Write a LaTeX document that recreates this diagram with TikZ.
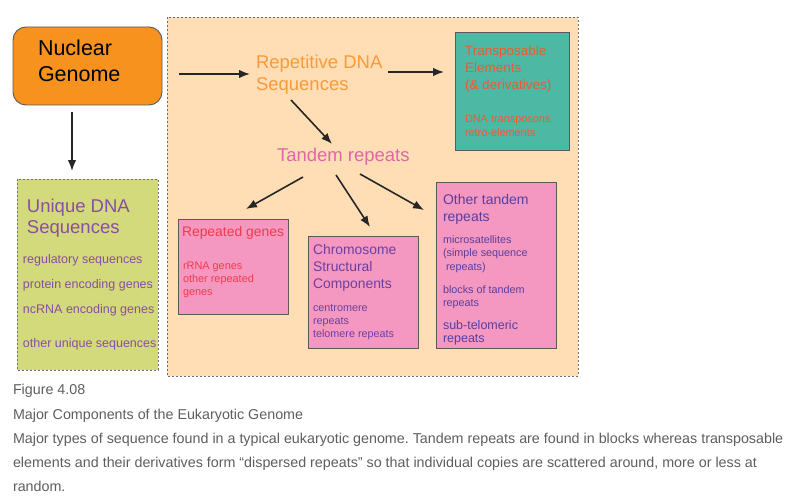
\documentclass[tikz,border=0pt]{standalone}
\usepackage{fontspec}
\setmainfont{Liberation Sans}
\usetikzlibrary{arrows.meta}
\frenchspacing
\definecolor{nucfill}{HTML}{F7921E}
\definecolor{peach}{HTML}{FFDEB5}
\definecolor{lime}{HTML}{D2DA7C}
\definecolor{teal2}{HTML}{4DB9A5}
\definecolor{pinkbox}{HTML}{F497C1}
\definecolor{reptxt}{HTML}{F99B3A}
\definecolor{tandtxt}{HTML}{E066A8}
\definecolor{transtxt}{HTML}{EE5A30}
\definecolor{uniqtxt}{HTML}{8A4EA2}
\definecolor{rgtxt}{HTML}{EE3D4C}
\definecolor{chrtxt}{HTML}{6C40A0}
\definecolor{othtxt}{HTML}{5A3E9E}
\definecolor{captxt}{HTML}{5E5E5E}
\definecolor{edge}{HTML}{5A5A5A}
\definecolor{dashc}{HTML}{707070}
\tikzset{
  x=1pt, y=-1pt,
  solidbox/.style={draw=edge, line width=0.9pt},
  dashbox/.style={draw=dashc, line width=0.8pt, dash pattern=on 2pt off 2pt},
  txt/.style={inner sep=0pt, outer sep=0pt, anchor=north west, align=left},
  btxt/.style={inner sep=0pt, outer sep=0pt, anchor=base west},
  arr/.style={draw=black!85, line width=1.6pt, -{Latex[length=11pt,width=8.5pt]}},
  fs/.style 2 args={font=\fontsize{#1}{#2}\selectfont\frenchspacing},
}
\begin{document}
\begin{tikzpicture}
\useasboundingbox[fill=white] (0,0) rectangle (795,500);
% containers
\path[dashbox, fill=peach] (167,17) rectangle (578,376);
\path[dashbox, fill=lime] (17,179) rectangle (158,370);
\draw[solidbox, fill=nucfill, rounded corners=13pt] (13,27) rectangle (162,105);
\path[solidbox, fill=teal2] (455,32) rectangle (569,150);
\path[solidbox, fill=pinkbox] (178,219) rectangle (288,314);
\path[solidbox, fill=pinkbox] (308,236) rectangle (418,348);
\path[solidbox, fill=pinkbox] (436,182) rectangle (556,348);
% texts
\node[txt, fs={21.5}{26}, text=black] (nuc) at (38,39.5) {Nuclear\\Genome};
\node[txt, fs={18.5}{22}, text=reptxt] (rep) at (256,54.7) {Repetitive DNA\\Sequences};
\node[txt, fs={18.5}{22}, text=tandtxt] (tand) at (277,147.7) {Tandem repeats};
\node[txt, fs={18.5}{21}, text=uniqtxt] (uniq) at (27,198.7) {Unique DNA\\Sequences};
\node[btxt, fs={12.5}{15}, text=uniqtxt] (u1) at (23,263) {regulatory sequences};
\node[btxt, fs={12.5}{15}, text=uniqtxt] (u2) at (23,288) {protein encoding genes};
\node[btxt, fs={12.5}{15}, text=uniqtxt] (u3) at (23,313) {ncRNA encoding genes};
\node[btxt, fs={12.5}{15}, text=uniqtxt] (u4) at (23,347) {other unique sequences};
\node[txt, fs={13.5}{17}, text=transtxt] (trans) at (465,45.3) {Transposable\\Elements\\(\& derivatives)};
\node[txt, fs={10.9}{13.5}, text=transtxt] (transi) at (465,115.2) {DNA transposons\\retro-elements};
\node[btxt, fs={13.9}{17}, text=rgtxt] (rg) at (182,236) {Repeated genes};
\node[txt, fs={10.9}{13}, text=rgtxt] (rgi) at (183,262.2) {rRNA genes\\other repeated\\genes};
\node[txt, fs={13.9}{17}, text=chrtxt] (chr) at (313,244) {Chromosome\\Structural\\Components};
\node[txt, fs={10.8}{13}, text=chrtxt] (chri) at (313,304.2) {centromere\\repeats\\telomere repeats};
\node[txt, fs={14}{17}, text=othtxt] (oth) at (443,193.9) {Other tandem\\repeats};
\node[txt, fs={10.8}{13.5}, text=othtxt] (oth1) at (443,235.2) {microsatellites\\(simple sequence\\\ repeats)};
\node[txt, fs={10.8}{13}, text=othtxt] (oth2) at (443,285.2) {blocks of tandem\\repeats};
\node[txt, fs={12.5}{13.5}, text=othtxt] (oth3) at (443,320) {sub-telomeric\\repeats};
% caption
\node[btxt, fs={14.3}{17}, text=captxt] (c1) at (13,394) {Figure 4.08};
\node[btxt, fs={14.3}{17}, text=captxt] (c2) at (13,419) {Major Components of the Eukaryotic Genome};
\node[btxt, fs={14.3}{17}, text=captxt] (c3) at (13,443) {Major types of sequence found in a typical eukaryotic genome. Tandem repeats are found in blocks whereas transposable};
\node[btxt, fs={14.3}{17}, text=captxt] (c4) at (13,467) {elements and their derivatives form \textquotedblleft dispersed repeats\textquotedblright\ so that individual copies are scattered around, more or less at};
\node[btxt, fs={14.3}{17}, text=captxt] (c5) at (13,491) {random.};
% arrow endpoints
\coordinate (a1s) at (179,74);  \coordinate (a1e) at (250,74);
\coordinate (a2s) at (72,112);  \coordinate (a2e) at (72,171);
\coordinate (a3s) at (388,72);  \coordinate (a3e) at (444,72);
\coordinate (a4s) at (291,100); \coordinate (a4e) at (332,144);
\coordinate (a5s) at (303,177); \coordinate (a5e) at (246,209);
\coordinate (a6s) at (336,175); \coordinate (a6e) at (370,227);
\coordinate (a7s) at (360,174); \coordinate (a7e) at (424,210);
\draw[arr] (a1s) -- (a1e);
\draw[arr] (a2s) -- (a2e);
\draw[arr] (a3s) -- (a3e);
\draw[arr] (a4s) -- (a4e);
\draw[arr] (a5s) -- (a5e);
\draw[arr] (a6s) -- (a6e);
\draw[arr] (a7s) -- (a7e);
\end{tikzpicture}
\end{document}
